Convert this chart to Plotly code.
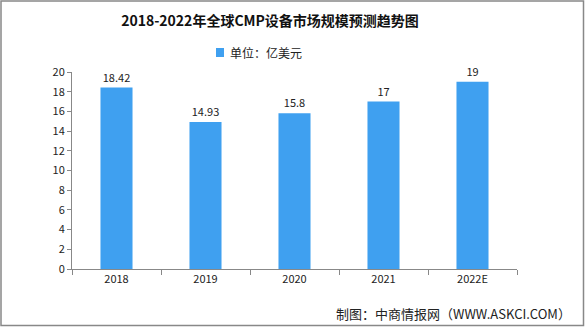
import plotly.graph_objects as go

years = ["2018", "2019", "2020", "2021", "2022E"]
values = [18.42, 14.93, 15.8, 17, 19]
labels = ["18.42", "14.93", "15.8", "17", "19"]
y_ticks = [0, 2, 4, 6, 8, 10, 12, 14, 16, 18, 20]

W, H = 585, 327
L, R, T, B = 72, 68, 72, 58
pw, ph = W - L - R, H - T - B

font = "Noto Sans CJK SC, sans-serif"
bar_color = "#3FA0F0"

fig = go.Figure()
fig.add_trace(go.Bar(
    x=years, y=values, text=labels, textposition="outside",
    textfont=dict(size=11, color="#222", family=font),
    marker=dict(color=bar_color, line=dict(width=0)),
    width=0.36, name="单位：亿美元", showlegend=False, cliponaxis=False,
))

fig.update_layout(
    width=W, height=H,
    margin=dict(l=L, r=R, t=T, b=B),
    paper_bgcolor="white", plot_bgcolor="white",
    font=dict(family=font, size=11, color="#222"),
    title=dict(text="<b>2018-2022年全球CMP设备市场规模预测趋势图</b>",
               xref="container", x=270 / W, xanchor="center",
               y=1 - 21 / H, yanchor="middle",
               font=dict(size=14, color="#111", family=font)),
    xaxis=dict(type="category", showline=True, linecolor="#888", linewidth=1,
               ticks="outside", tickson="boundaries", ticklen=5, tickcolor="#888",
               tickfont=dict(size=11, color="#222"), showgrid=False),
    yaxis=dict(range=[0, 20], tickvals=y_ticks, showline=True, linecolor="#888",
               linewidth=1, ticks="outside", ticklen=4, tickcolor="#888",
               tickfont=dict(size=11, color="#222"), showgrid=False, zeroline=False),
    shapes=[
        dict(type="rect", xref="paper", yref="paper",
             x0=(1 - L) / pw, x1=(W - 1.5 - L) / pw,
             y0=1 + (T - 1) / ph, y1=-(B - 1.5) / ph,
             line=dict(color="#888", width=1.5)),
        dict(type="rect", xref="paper", yref="paper",
             x0=(216 - L) / pw, x1=(224 - L) / pw,
             y0=1 + (T - 48) / ph, y1=1 + (T - 57) / ph,
             fillcolor=bar_color, line=dict(width=0)),
    ],
    annotations=[
        dict(text="单位：亿美元", xref="paper", yref="paper",
             x=(228 - L) / pw, xanchor="left",
             y=1 + (T - 52.5) / ph, yanchor="middle", showarrow=False,
             font=dict(size=12, color="#222", family=font)),
        dict(text="制图：中商情报网（WWW.ASKCI.COM）", xref="paper", yref="paper",
             x=(573 - L) / pw, xanchor="right",
             y=-(313 - T - ph) / ph, yanchor="middle", showarrow=False,
             font=dict(size=13, color="#222", family=font)),
    ],
)

fig.write_html("out.html")
